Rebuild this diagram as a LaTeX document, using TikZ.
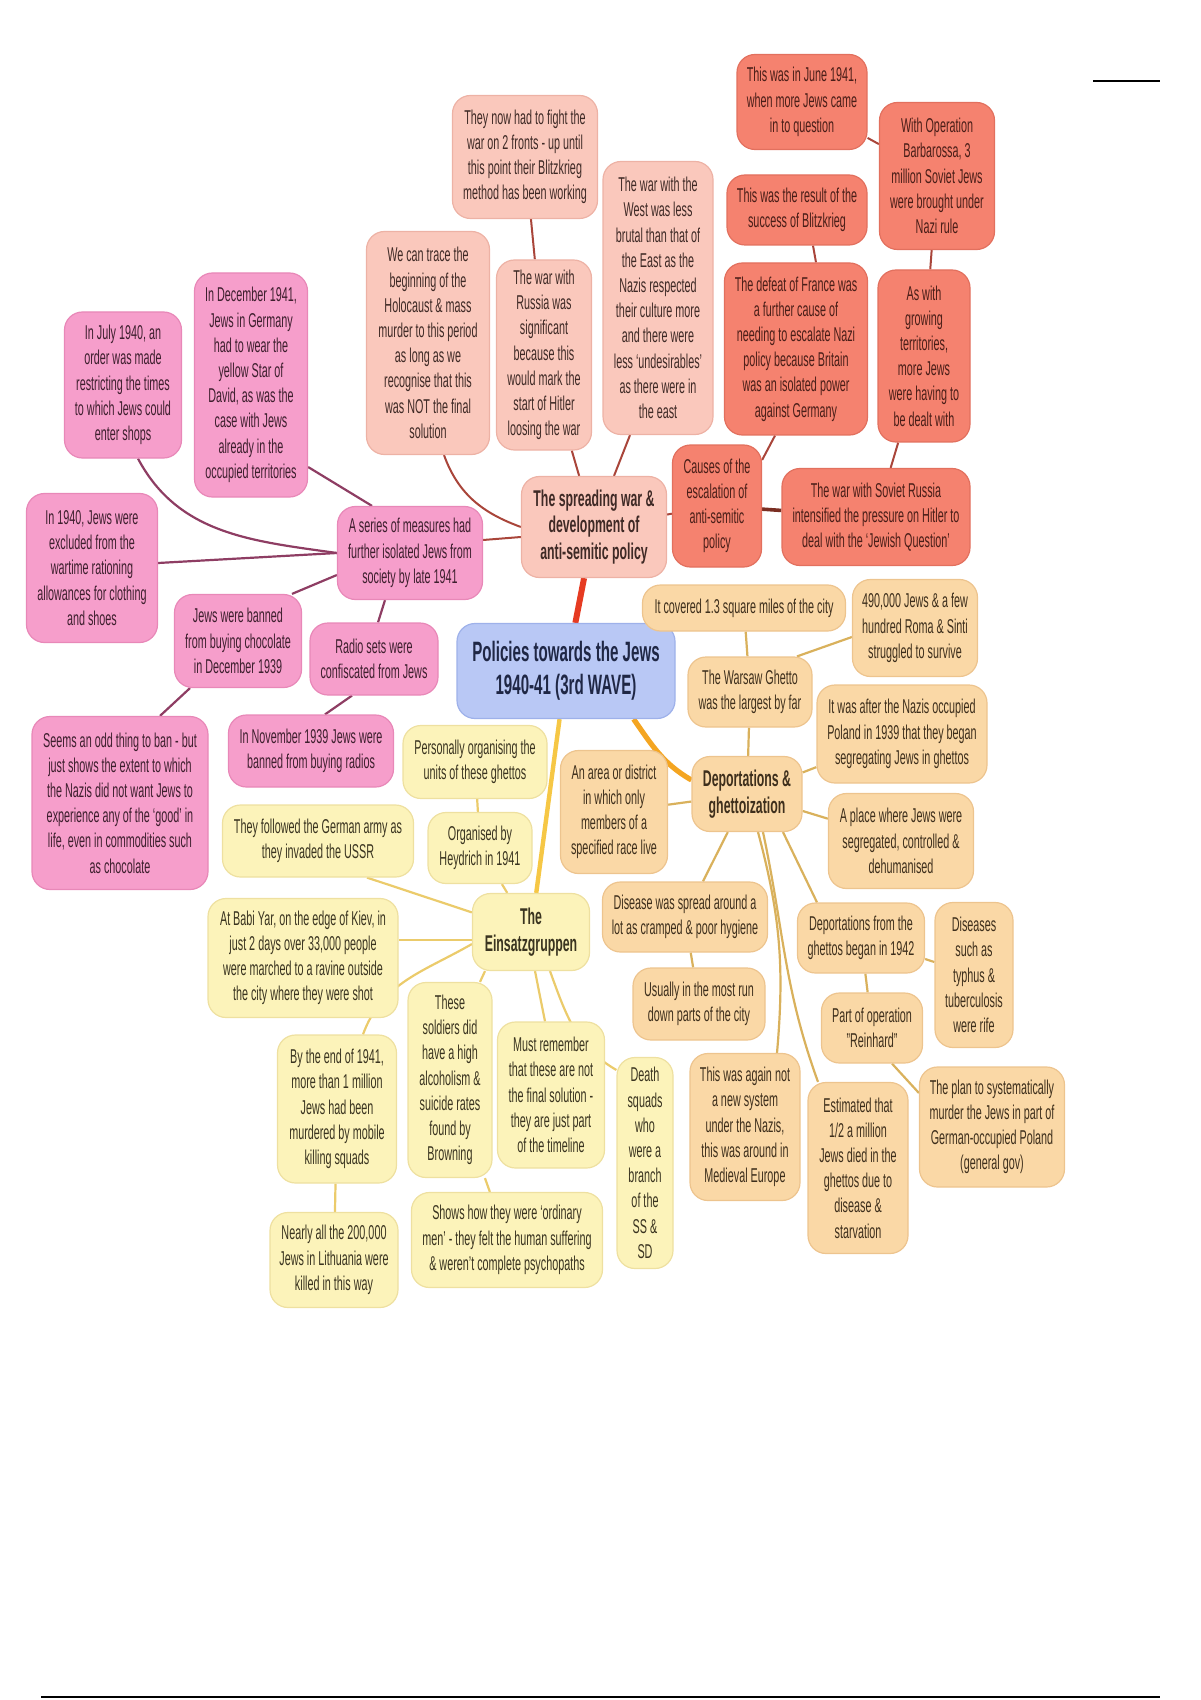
\documentclass[tikz,border=0pt]{standalone}
\usepackage{fontspec}
\setmainfont{Liberation Sans}[FakeStretch=0.54]
\usetikzlibrary{backgrounds}
\definecolor{coralF}{HTML}{F5826F}
\definecolor{coralD}{HTML}{E2705E}
\definecolor{salF}{HTML}{FAC8BC}
\definecolor{salD}{HTML}{EDB2A5}
\definecolor{pinkF}{HTML}{F69ECB}
\definecolor{pinkD}{HTML}{E888B8}
\definecolor{bluF}{HTML}{B9C8F5}
\definecolor{bluD}{HTML}{9EB1EA}
\definecolor{yelF}{HTML}{FCF3BA}
\definecolor{yelD}{HTML}{EEE0A0}
\definecolor{tanF}{HTML}{FAD8A6}
\definecolor{tanD}{HTML}{EDC48E}
\definecolor{redL}{HTML}{A9453A}
\definecolor{darkL}{HTML}{7A2E22}
\definecolor{pinkL}{HTML}{8E3D63}
\definecolor{yelL}{HTML}{EBCB6B}
\definecolor{tanL}{HTML}{D9B15C}
\definecolor{mainR}{HTML}{E63B22}
\definecolor{mainO}{HTML}{F4A521}
\definecolor{mainY}{HTML}{F6C745}
\definecolor{txtA}{HTML}{4A1E18}
\definecolor{txtB}{HTML}{3F2A26}
\definecolor{txtC}{HTML}{3E1F2E}
\definecolor{txtD}{HTML}{1F2745}
\definecolor{txtE}{HTML}{3A3420}
\definecolor{txtF}{HTML}{3E2F1C}
\tikzset{
  box/.style={rectangle, rounded corners=9pt, line width=0.6pt, align=center, inner sep=1pt,
    font=\fontsize{10}{12.6}\selectfont},
  topic/.style={font=\bfseries\fontsize{11.4}{13.2}\selectfont},
  coral/.style={box, fill=coralF, draw=coralD, text=txtA},
  salmon/.style={box, fill=salF, draw=salD, text=txtB},
  pinkb/.style={box, fill=pinkF, draw=pinkD, text=txtC},
  blueb/.style={box, fill=bluF, draw=bluD, text=txtD, font=\bfseries\fontsize{14}{16.7}\selectfont},
  yelb/.style={box, fill=yelF, draw=yelD, text=txtE},
  tanb/.style={box, fill=tanF, draw=tanD, text=txtF},
  sz/.style 2 args={minimum width=#1, minimum height=#2},
  redln/.style={draw=redL, line width=1pt},
  darkln/.style={draw=darkL, line width=1.8pt},
  pinkln/.style={draw=pinkL, line width=1.1pt},
  yelln/.style={draw=yelL, line width=1.1pt},
  tanln/.style={draw=tanL, line width=1.1pt},
}
\begin{document}
\begin{tikzpicture}[x=0.5pt, y=-0.5pt]
\useasboundingbox (0,0) rectangle (1200,1700);

% ---------- coral group ----------
\node[coral, sz={65pt}{47.5pt}] (n1) at (802,102) {This was in June 1941,\\when more Jews came\\in to question};
\node[coral, sz={57.5pt}{73.5pt}] (n2) at (937,176) {With Operation\\Barbarossa, 3\\million Soviet Jews\\were brought under\\Nazi rule};
\node[coral, sz={70pt}{35pt}] (n3) at (797,210) {This was the result of the\\success of Blitzkrieg};
\node[coral, sz={71.5pt}{86pt}] (n4) at (796,349) {The defeat of France was\\a further cause of\\needing to escalate Nazi\\policy because Britain\\was an isolated power\\against Germany};
\node[coral, sz={46pt}{86pt}] (n5) at (924,356) {As with\\growing\\territories,\\more Jews\\were having to\\be dealt with};
\node[coral, sz={44.5pt}{61pt}] (n6) at (717,506) {Causes of the\\escalation of\\anti-semitic\\policy};
\node[coral, sz={94pt}{48.5pt}] (n7) at (876,517) {The war with Soviet Russia\\intensified the pressure on Hitler to\\deal with the `Jewish Question'};

% ---------- salmon group ----------
\node[salmon, sz={72.5pt}{61.5pt}] (n8) at (525,157) {They now had to fight the\\war on 2 fronts - up until\\this point their Blitzkrieg\\method has been working};
\node[salmon, sz={61.5pt}{111.5pt}] (n9) at (428,343) {We can trace the\\beginning of the\\Holocaust \& mass\\murder to this period\\as long as we\\recognise that this\\was NOT the final\\solution};
\node[salmon, sz={47.5pt}{95pt}] (n10) at (544,355) {The war with\\Russia was\\significant\\because this\\would mark the\\start of Hitler\\loosing the war};
\node[salmon, sz={55pt}{136.5pt}] (n11) at (658,298) {The war with the\\West was less\\brutal than that of\\the East as the\\Nazis respected\\their culture more\\and there were\\less `undesirables'\\as there were in\\the east};
\node[salmon, topic, sz={72.5pt}{50.5pt}] (n12) at (594,527) {The spreading war \&\\development of\\anti-semitic policy};

% ---------- pink group ----------
\node[pinkb, sz={58.5pt}{73pt}] (n13) at (123,385) {In July 1940, an\\order was made\\restricting the times\\to which Jews could\\enter shops};
\node[pinkb, sz={56.5pt}{112pt}] (n14) at (251,385) {In December 1941,\\Jews in Germany\\had to wear the\\yellow Star of\\David, as was the\\case with Jews\\already in the\\occupied territories};
\node[pinkb, sz={65.5pt}{74.5pt}] (n15) at (92,568) {In 1940, Jews were\\excluded from the\\wartime rationing\\allowances for clothing\\and shoes};
\node[pinkb, sz={72.5pt}{46.5pt}] (n16) at (410,553) {A series of measures had\\further isolated Jews from\\society by late 1941};
\node[pinkb, sz={63.5pt}{46.5pt}] (n17) at (238,641) {Jews were banned\\from buying chocolate\\in December 1939};
\node[pinkb, sz={64pt}{36pt}] (n18) at (374,659) {Radio sets were\\confiscated from Jews};
\node[pinkb, sz={88pt}{86.5pt}] (n19) at (120,803) {Seems an odd thing to ban - but\\just shows the extent to which\\the Nazis did not want Jews to\\experience any of the `good' in\\life, even in commodities such\\as chocolate};
\node[pinkb, sz={82.5pt}{36pt}] (n20) at (311,751) {In November 1939 Jews were\\banned from buying radios};

% ---------- centre ----------
\node[blueb, sz={109pt}{47.5pt}] (n21) at (566,671) {Policies towards the Jews\\1940-41 (3rd WAVE)};

% ---------- yellow group ----------
\node[yelb, sz={72pt}{36.5pt}] (n22) at (475,762) {Personally organising the\\units of these ghettos};
\node[yelb, sz={52pt}{35.5pt}] (n23) at (480,848) {Organised by\\Heydrich in 1941};
\node[yelb, sz={95.5pt}{36pt}] (n24) at (318,841) {They followed the German army as\\they invaded the USSR};
\node[yelb, topic, sz={58.5pt}{38.5pt}] (n25) at (531,932) {The\\Einsatzgruppen};
\node[yelb, sz={95pt}{59.5pt}] (n26) at (303,958) {At Babi Yar, on the edge of Kiev, in\\just 2 days over 33,000 people\\were marched to a ravine outside\\the city where they were shot};
\node[yelb, sz={42pt}{97.5pt}] (n27) at (450,1080) {These\\soldiers did\\have a high\\alcoholism \&\\suicide rates\\found by\\Browning};
\node[yelb, sz={53.5pt}{73pt}] (n28) at (551,1095) {Must remember\\that these are not\\the final solution -\\they are just part\\of the timeline};
\node[yelb, sz={28pt}{105.5pt}] (n29) at (645,1163) {Death\\squads\\who\\were a\\branch\\of the\\SS \&\\SD};
\node[yelb, sz={59.5pt}{74pt}] (n30) at (337,1109) {By the end of 1941,\\more than 1 million\\Jews had been\\murdered by mobile\\killing squads};
\node[yelb, sz={64pt}{47.5pt}] (n31) at (334,1260) {Nearly all the 200,000\\Jews in Lithuania were\\killed in this way};
\node[yelb, sz={95.5pt}{47.5pt}] (n32) at (507,1240) {Shows how they were `ordinary\\men' - they felt the human suffering\\\& weren't complete psychopaths};

% ---------- tan group ----------
\node[tanb, topic, sz={55pt}{37.5pt}] (n33) at (747,794) {Deportations \&\\ghettoization};
\node[tanb, sz={101.5pt}{23pt}] (n34) at (744,608) {It covered 1.3 square miles of the city};
\node[tanb, sz={62pt}{35pt}] (n35) at (750,692) {The Warsaw Ghetto\\was the largest by far};
\node[tanb, sz={62.5pt}{48.5pt}] (n36) at (915,628) {490,000 Jews \& a few\\hundred Roma \& Sinti\\struggled to survive};
\node[tanb, sz={85pt}{49pt}] (n37) at (902,734) {It was after the Nazis occupied\\Poland in 1939 that they began\\segregating Jews in ghettos};
\node[tanb, sz={72.5pt}{47.5pt}] (n38) at (901,841) {A place where Jews were\\segregated, controlled \&\\dehumanised};
\node[tanb, sz={53.5pt}{61.5pt}] (n39) at (614,812) {An area or district\\in which only\\members of a\\specified race live};
\node[tanb, sz={82.5pt}{35pt}] (n40) at (685,917) {Disease was spread around a\\lot as cramped \& poor hygiene};
\node[tanb, sz={66pt}{36pt}] (n41) at (699,1004) {Usually in the most run\\down parts of the city};
\node[tanb, sz={63.5pt}{35pt}] (n42) at (861,938) {Deportations from the\\ghettos began in 1942};
\node[tanb, sz={39pt}{72.5pt}] (n43) at (974,975) {Diseases\\such as\\typhus \&\\tuberculosis\\were rife};
\node[tanb, sz={50.5pt}{35pt}] (n44) at (872,1028) {Part of operation\\"Reinhard"};
\node[tanb, sz={72.5pt}{60pt}] (n45) at (992,1127) {The plan to systematically\\murder the Jews in part of\\German-occupied Poland\\(general gov)};
\node[tanb, sz={55pt}{73.5pt}] (n46) at (745,1127) {This was again not\\a new system\\under the Nazis,\\this was around in\\Medieval Europe};
\node[tanb, sz={50pt}{85.5pt}] (n47) at (858,1168) {Estimated that\\1/2 a million\\Jews died in the\\ghettos due to\\disease \&\\starvation};

% ---------- connectors ----------
\begin{scope}[on background layer]
  % main branches
  \draw[draw=mainR, line width=3pt] (n21) -- (n12);
  \draw[draw=mainO, line width=2.6pt] ([xshift=-21pt]n21.south east) to[out=-55,in=150] ([yshift=7pt]n33.west);
  \draw[draw=mainY, line width=2.2pt] (n21) -- (n25);
  % red group
  \draw[redln] ([xshift=8pt]n9.south) to[out=-70,in=160] (n12.west);
  \draw[redln] (n12) -- (n10);
  \draw[redln] (n10) -- (n8);
  \draw[redln] ([xshift=10pt]n12.north) -- ([xshift=-14pt]n11.south);
  \draw[redln] (n12) -- (n6);
  \draw[redln] ([yshift=-5pt]n12.west) -- ([yshift=6.5pt]n16.east);
  \draw[darkln] (n6) -- (n7);
  \draw[redln] ([yshift=23pt]n6.east) -- ([xshift=-10.5pt]n4.south);
  \draw[redln] (n7) -- (n5);
  \draw[redln] ([xshift=10pt]n4.north) -- ([xshift=8pt]n3.south);
  \draw[redln] (n5) -- (n2);
  \draw[redln] (n2) -- (n1);
  % pink group
  \draw[pinkln] (n16.west) to[out=172,in=-62] ([xshift=7.5pt]n13.south);
  \draw[pinkln] ([xshift=-19pt]n16.north) -- ([yshift=-41pt]n14.east);
  \draw[pinkln] (n16.west) -- ([yshift=2.5pt]n15.east);
  \draw[pinkln] ([yshift=-11pt]n16.west) -- ([xshift=27pt]n17.north);
  \draw[pinkln] ([xshift=-12.5pt]n16.south) -- ([xshift=2pt]n18.north);
  \draw[pinkln] ([xshift=-24pt]n17.south) -- ([xshift=20pt]n19.north);
  \draw[pinkln] ([xshift=-11pt]n18.south) -- ([xshift=7pt]n20.north);
  % yellow group
  \draw[yelln] (n25) -- ([xshift=24.5pt]n24.south);
  \draw[yelln] (n25) -- (n23);
  \draw[yelln] (n23) -- (n22);
  \draw[yelln] ([yshift=-4pt]n25.west) -- ([yshift=9pt]n26.east);
  \draw[yelln] ([yshift=-6pt]n25.west) to[out=210,in=70] ([xshift=13pt]n30.north);
  \draw[yelln] ([xshift=-23pt]n25.south) -- ([xshift=15pt]n27.north);
  \draw[yelln] ([xshift=2pt]n25.south) -- ([xshift=-3pt]n28.north);
  \draw[yelln] ([xshift=9.5pt]n25.south) to[out=-70,in=150] ([yshift=46.5pt]n29.west);
  \draw[yelln] (n27) -- (n32);
  \draw[yelln] (n30) -- (n31);
  % tan group
  \draw[tanln] (n33) -- (n35);
  \draw[tanln] (n35) -- (n34);
  \draw[tanln] ([xshift=23.5pt]n35.north) -- ([yshift=-4.5pt]n36.west);
  \draw[tanln] (n33) -- (n37);
  \draw[tanln] (n33) -- (n38);
  \draw[tanln] (n33) -- (n39);
  \draw[tanln] (n33) -- (n40);
  \draw[tanln] (n40) -- (n41);
  \draw[tanln] ([xshift=5.5pt]n33.south) to[out=-75,in=85] ([xshift=16pt]n46.north);
  \draw[tanln] ([xshift=8pt]n33.south) to[out=-78,in=110] ([xshift=-20pt]n47.north);
  \draw[tanln] ([xshift=18pt]n33.south) -- ([xshift=-22pt]n42.north);
  \draw[tanln] (n42) -- (n43);
  \draw[tanln] (n42) -- (n44);
  \draw[tanln] ([xshift=10pt]n44.south) -- ([yshift=17pt]n45.west);
\end{scope}

% page rules
\draw[line width=1.2pt] (1093,81) -- (1160,81);
\draw[line width=1pt] (41,1697) -- (1160,1697);
\end{tikzpicture}
\end{document}
